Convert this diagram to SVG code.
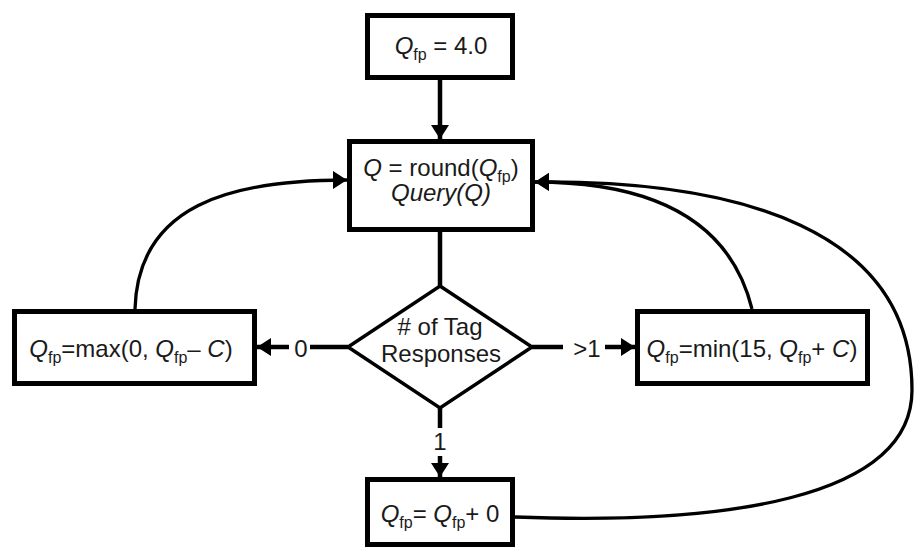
<svg xmlns="http://www.w3.org/2000/svg" width="915" height="553" viewBox="0 0 915 553">
  <style>
    .box { fill: #fff; stroke: #000; stroke-width: 5; }
    .dec { fill: #fff; stroke: #000; stroke-width: 3.5; }
    .ln { fill: none; stroke: #000; stroke-width: 4.5; }
    .cv { fill: none; stroke: #000; stroke-width: 3.3; }
    text { font-family: "Liberation Sans", Arial, sans-serif; font-size: 24px; fill: #1a1a1a; text-anchor: middle; }
    .i { font-style: italic; }
    .sub { font-size: 16px; font-style: normal; }
  </style>
  <defs>
    <marker id="arrow" markerUnits="userSpaceOnUse" markerWidth="16" markerHeight="18" refX="14" refY="9" orient="auto">
      <path d="M0,0 L14,9 L0,18 Z" fill="#000"/>
    </marker>
  </defs>

  <rect width="915" height="553" fill="#fff"/>

  <g id="connectors">
    <line class="ln" x1="440" y1="80" x2="440" y2="139" marker-end="url(#arrow)"/>
    <line class="ln" x1="440" y1="232" x2="440" y2="287"/>
    <line class="ln" x1="348" y1="347" x2="310" y2="347"/>
    <line class="ln" x1="289" y1="347" x2="257" y2="347" marker-end="url(#arrow)"/>
    <line class="ln" x1="532" y1="347" x2="563" y2="347"/>
    <line class="ln" x1="605" y1="347" x2="635" y2="347" marker-end="url(#arrow)"/>
    <line class="ln" x1="440" y1="408" x2="440" y2="428"/>
    <line class="ln" x1="440" y1="456" x2="440" y2="477" marker-end="url(#arrow)"/>
    <path class="cv" d="M135,309 C138,205 230,180 347,180" marker-end="url(#arrow)"/>
    <path class="cv" d="M752,309 C735,240 680,182 535,182" marker-end="url(#arrow)"/>
    <path class="cv" d="M515,517 C720,525 912,500 912,390 C912,230 740,180 535,182" marker-end="url(#arrow)"/>
    <text x="301" y="357">0</text>
    <text x="587" y="357">&gt;1</text>
    <text x="440" y="450">1</text>
  </g>

  <g id="init">
    <rect class="box" x="367.5" y="15.5" width="145" height="62"/>
    <text x="441" y="54"><tspan class="i">Q</tspan><tspan class="sub" dy="6">fp</tspan><tspan dy="-6"> = 4.0</tspan></text>
  </g>

  <g id="query">
    <rect class="box" x="349.5" y="141.5" width="183" height="88"/>
    <text x="441" y="176"><tspan class="i">Q</tspan> = round(<tspan class="i">Q</tspan><tspan class="sub" dy="6">fp</tspan><tspan dy="-6">)</tspan></text>
    <text class="i" x="441" y="201">Query(Q)</text>
  </g>

  <g id="responses">
    <polygon class="dec" points="440,286 532,347 440,408 348,347"/>
    <text x="440" y="335"># of Tag</text>
    <text x="441" y="362">Responses</text>
  </g>

  <g id="decrease">
    <rect class="box" x="14.5" y="311.5" width="240" height="72"/>
    <text x="131" y="357"><tspan class="i">Q</tspan><tspan class="sub" dy="6">fp</tspan><tspan dy="-6">=max(0, </tspan><tspan class="i">Q</tspan><tspan class="sub" dy="6">fp</tspan><tspan dy="-6">– </tspan><tspan class="i">C</tspan>)</text>
  </g>

  <g id="increase">
    <rect class="box" x="637.5" y="311.5" width="230" height="72"/>
    <text x="752" y="357"><tspan class="i">Q</tspan><tspan class="sub" dy="6">fp</tspan><tspan dy="-6">=min(15, </tspan><tspan class="i">Q</tspan><tspan class="sub" dy="6">fp</tspan><tspan dy="-6">+ </tspan><tspan class="i">C</tspan>)</text>
  </g>

  <g id="keep">
    <rect class="box" x="367.5" y="479.5" width="145" height="65"/>
    <text x="440" y="522"><tspan class="i">Q</tspan><tspan class="sub" dy="6">fp</tspan><tspan dy="-6">= </tspan><tspan class="i">Q</tspan><tspan class="sub" dy="6">fp</tspan><tspan dy="-6">+ 0</tspan></text>
  </g>
</svg>
